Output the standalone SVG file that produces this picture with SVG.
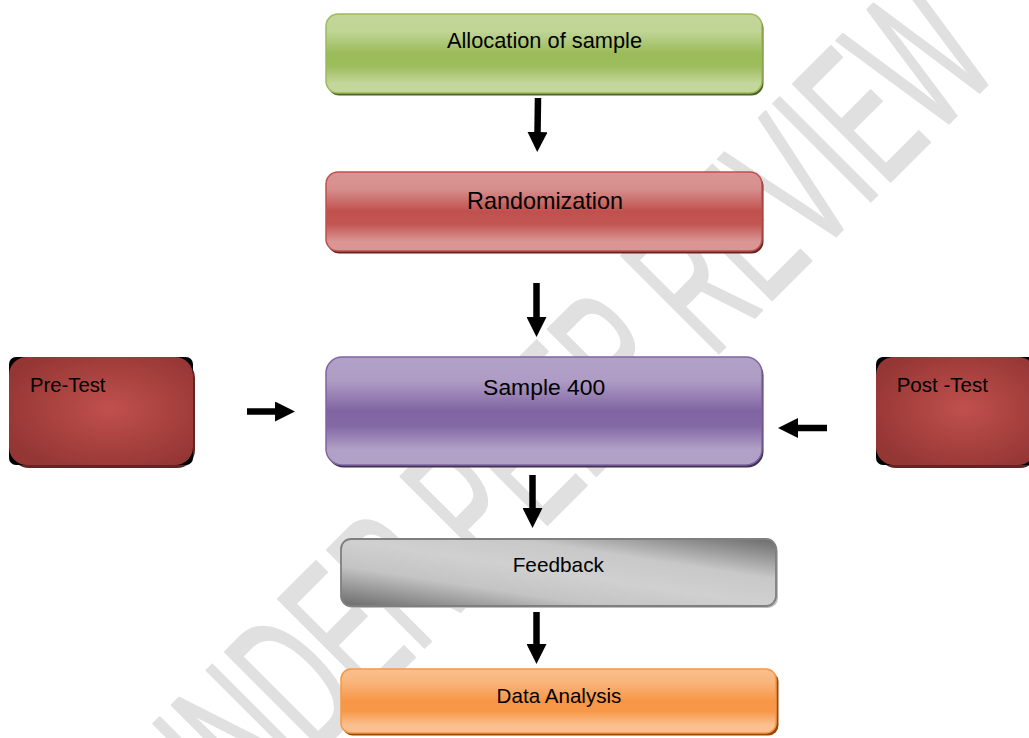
<svg xmlns="http://www.w3.org/2000/svg" width="1029" height="738" viewBox="0 0 1029 738">
<defs>
<linearGradient id="gGreen" x1="0" y1="0" x2="0" y2="1">
<stop offset="0" stop-color="#c3d69b"/><stop offset="0.22" stop-color="#c0d596"/><stop offset="0.5" stop-color="#9bbb59"/><stop offset="0.66" stop-color="#9dbc5c"/><stop offset="0.88" stop-color="#c3d69b"/><stop offset="1" stop-color="#c3d69b"/>
</linearGradient>
<linearGradient id="gRed" x1="0" y1="0" x2="0" y2="1">
<stop offset="0" stop-color="#d99694"/><stop offset="0.22" stop-color="#d68e8c"/><stop offset="0.5" stop-color="#c0504d"/><stop offset="0.66" stop-color="#c25653"/><stop offset="0.88" stop-color="#d99694"/><stop offset="1" stop-color="#d99694"/>
</linearGradient>
<linearGradient id="gPurple" x1="0" y1="0" x2="0" y2="1">
<stop offset="0" stop-color="#b2a1c7"/><stop offset="0.22" stop-color="#ae9cc4"/><stop offset="0.5" stop-color="#8064a2"/><stop offset="0.64" stop-color="#8469a5"/><stop offset="0.86" stop-color="#b2a1c7"/><stop offset="1" stop-color="#b2a1c7"/>
</linearGradient>
<linearGradient id="gOrange" x1="0" y1="0" x2="0" y2="1">
<stop offset="0" stop-color="#fac08f"/><stop offset="0.22" stop-color="#f9b47a"/><stop offset="0.5" stop-color="#f79646"/><stop offset="0.66" stop-color="#f79849"/><stop offset="0.88" stop-color="#fac08f"/><stop offset="1" stop-color="#fac08f"/>
</linearGradient>
<linearGradient id="gGray" x1="0" y1="1" x2="1" y2="0">
<stop offset="0" stop-color="#6a6a6a"/><stop offset="0.3" stop-color="#c4c4c4"/><stop offset="0.5" stop-color="#d0d0d0"/><stop offset="0.7" stop-color="#c8c8c8"/><stop offset="1" stop-color="#6a6a6a"/>
</linearGradient>
<radialGradient id="gDark" cx="0.55" cy="0.48" r="0.62">
<stop offset="0" stop-color="#c0504d"/><stop offset="1" stop-color="#943634"/>
</radialGradient>
<marker id="ah" viewBox="0 0 20 20" refX="1" refY="10" markerWidth="20" markerHeight="20" markerUnits="userSpaceOnUse" orient="auto">
<path d="M0,0 L20,10 L0,20 z" fill="#000"/>
</marker>
<style>
.lbl{font-family:"Liberation Sans",Arial,sans-serif;fill:#000;}
.wm{font-family:"Liberation Sans",Arial,sans-serif;font-size:200px;fill:#e0e0e0;stroke:#e0e0e0;stroke-width:2.5;stroke-linejoin:round;}
.arrow{stroke:#000;stroke-width:6.5;fill:none;marker-end:url(#ah);}
</style>
</defs>
<rect width="1029" height="738" fill="#ffffff"/>
<text class="wm" transform="translate(210,862) rotate(-45) scale(0.52,1)">UNDER PEER REVIEW</text>

<g id="node-allocation">
<rect x="327.5" y="16.5" width="436" height="79" rx="12" fill="#4f6228"/>
<rect x="326" y="14" width="436" height="79" rx="12" fill="url(#gGreen)" stroke="#9bbb59" stroke-width="1.5"/>
<text class="lbl" x="544.5" y="48" font-size="21.8" text-anchor="middle">Allocation of sample</text>
</g>
<g id="node-randomization">
<rect x="327.5" y="174.5" width="436" height="79" rx="12" fill="#632523"/>
<rect x="326" y="172" width="436" height="79" rx="12" fill="url(#gRed)" stroke="#c0504d" stroke-width="1.5"/>
<text class="lbl" x="545" y="209.3" font-size="23.4" text-anchor="middle">Randomization</text>
</g>
<g id="node-sample">
<rect x="327.5" y="359.5" width="436" height="108" rx="16" fill="#3f3151"/>
<rect x="326" y="357" width="436" height="108" rx="16" fill="url(#gPurple)" stroke="#8064a2" stroke-width="1.5"/>
<text class="lbl" x="544.2" y="395" font-size="22.9" text-anchor="middle">Sample 400</text>
</g>
<g id="node-pretest">
<rect x="11" y="360" width="184" height="108" rx="18" fill="#632523"/>
<rect x="9" y="357" width="184" height="108" rx="7" fill="#000"/>
<rect x="9" y="357" width="184" height="108" rx="18" fill="url(#gDark)"/>
<text class="lbl" x="30" y="391.7" font-size="20.3">Pre-Test</text>
</g>
<g id="node-posttest">
<rect x="878" y="360" width="160" height="108" rx="18" fill="#632523"/>
<rect x="876" y="357" width="160" height="108" rx="7" fill="#000"/>
<rect x="876" y="357" width="160" height="108" rx="18" fill="url(#gDark)"/>
<text class="lbl" x="896.7" y="391.7" font-size="20.5">Post -Test</text>
</g>
<g id="node-feedback">
<rect x="342" y="541" width="436" height="67" rx="10" fill="#bfbfbf"/>
<rect x="341" y="539" width="435" height="67" rx="10" fill="url(#gGray)" stroke="#7f7f7f" stroke-width="1.8"/>
<text class="lbl" x="558.3" y="571.7" font-size="20.8" text-anchor="middle">Feedback</text>
</g>
<g id="node-analysis">
<rect x="342.5" y="671.5" width="436" height="64" rx="10" fill="#984806"/>
<rect x="341" y="669" width="435" height="64" rx="10" fill="url(#gOrange)" stroke="#f79646" stroke-width="1.5"/>
<text class="lbl" x="559" y="703.3" font-size="20.6" text-anchor="middle">Data Analysis</text>
</g>

<g id="connectors">
<line class="arrow" x1="538" y1="98" x2="537.5" y2="133"/>
<line class="arrow" x1="536.5" y1="283" x2="536.5" y2="318"/>
<line class="arrow" x1="532.5" y1="475" x2="532.5" y2="509"/>
<line class="arrow" x1="536.5" y1="612" x2="536.5" y2="645"/>
<line class="arrow" x1="247" y1="411.5" x2="276" y2="411.5"/>
<line class="arrow" x1="827" y1="428" x2="797" y2="428"/>
</g>
</svg>
